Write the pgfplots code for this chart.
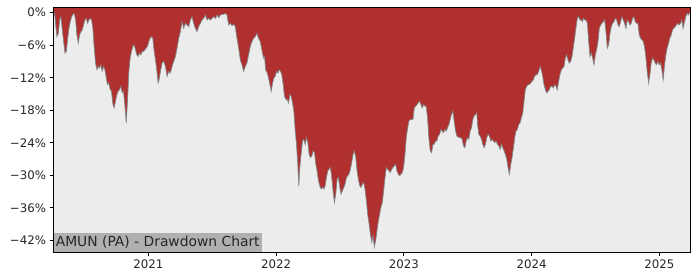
\documentclass[border=0pt]{standalone}
\usepackage{fontspec}
\setmainfont{DejaVu Sans}
\usepackage{pgfplots}
\pgfplotsset{compat=1.18}
\usepackage{pgfplotstable}
\definecolor{ddred}{RGB}{176,48,48}
\definecolor{bgc}{RGB}{236,236,236}
\definecolor{boxc}{RGB}{176,176,176}
\definecolor{edgec}{RGB}{128,136,136}

\pgfplotstableread{
x y
2020.255 -1.00
2020.267 -0.12
2020.275 -2.26
2020.285 -4.40
2020.296 -3.79
2020.306 -1.34
2020.316 -0.73
2020.327 -3.17
2020.337 -5.31
2020.348 -7.45
2020.358 -7.15
2020.369 -4.70
2020.379 -2.87
2020.389 -1.65
2020.400 -0.73
2020.410 -0.30
2020.421 -0.12
2020.431 -1.34
2020.441 -4.09
2020.452 -5.62
2020.462 -4.09
2020.473 -3.48
2020.483 -3.17
2020.493 -2.26
2020.504 -1.34
2020.514 -1.03
2020.525 -1.95
2020.535 -1.34
2020.546 -1.03
2020.556 -1.34
2020.566 -2.87
2020.577 -6.54
2020.587 -9.29
2020.598 -10.51
2020.608 -9.90
2020.618 -10.21
2020.629 -9.60
2020.639 -10.82
2020.650 -9.90
2020.660 -10.51
2020.671 -12.04
2020.681 -13.27
2020.691 -12.96
2020.702 -14.18
2020.712 -14.49
2020.723 -16.94
2020.733 -17.55
2020.743 -16.32
2020.754 -15.10
2020.764 -14.49
2020.775 -14.18
2020.785 -13.57
2020.796 -14.79
2020.806 -14.49
2020.816 -16.94
2020.827 -20.30
2020.837 -16.32
2020.848 -10.82
2020.858 -8.37
2020.868 -7.15
2020.879 -6.23
2020.889 -5.93
2020.900 -6.84
2020.910 -7.76
2020.921 -8.07
2020.931 -7.45
2020.941 -7.76
2020.952 -7.15
2020.962 -7.15
2020.973 -6.84
2020.983 -6.54
2020.993 -6.23
2021.004 -5.31
2021.014 -4.70
2021.025 -4.40
2021.035 -4.70
2021.046 -7.15
2021.056 -8.68
2021.066 -10.51
2021.077 -12.96
2021.082 -12.65
2021.095 -10.82
2021.108 -9.29
2021.121 -8.98
2021.134 -9.90
2021.147 -11.74
2021.160 -10.82
2021.173 -11.12
2021.186 -9.90
2021.199 -8.98
2021.212 -8.07
2021.225 -6.54
2021.238 -4.70
2021.251 -3.48
2021.264 -1.65
2021.277 -2.87
2021.290 -1.95
2021.303 -2.26
2021.316 -2.56
2021.329 -1.34
2021.342 -0.73
2021.355 -1.95
2021.368 -2.87
2021.381 -3.48
2021.394 -2.56
2021.408 -1.95
2021.421 -1.34
2021.434 -1.03
2021.447 -0.42
2021.460 -1.34
2021.473 -1.03
2021.486 -1.34
2021.499 -1.03
2021.512 -0.73
2021.525 -1.03
2021.538 -0.42
2021.551 -0.91
2021.564 -0.42
2021.577 -0.30
2021.590 -0.30
2021.603 -0.12
2021.616 -0.42
2021.629 -2.26
2021.642 -1.95
2021.655 -2.38
2021.668 -2.13
2021.681 -2.56
2021.694 -4.70
2021.707 -6.54
2021.720 -8.68
2021.733 -9.60
2021.746 -10.82
2021.759 -9.90
2021.772 -9.29
2021.785 -7.76
2021.798 -6.23
2021.811 -5.31
2021.824 -4.70
2021.837 -4.40
2021.850 -3.79
2021.863 -4.70
2021.876 -5.31
2021.889 -6.84
2021.902 -8.37
2021.910 -8.07
2021.918 -10.51
2021.931 -11.12
2021.941 -12.04
2021.952 -13.27
2021.962 -14.49
2021.973 -12.96
2021.983 -12.04
2021.993 -11.74
2022.004 -10.82
2022.014 -11.12
2022.025 -10.51
2022.035 -10.82
2022.045 -11.43
2022.056 -13.27
2022.066 -15.41
2022.077 -16.02
2022.087 -16.02
2022.098 -16.63
2022.108 -15.10
2022.118 -15.41
2022.129 -16.63
2022.139 -18.16
2022.150 -21.83
2022.160 -24.28
2022.170 -27.95
2022.178 -31.92
2022.186 -28.56
2022.196 -26.11
2022.207 -23.67
2022.217 -23.36
2022.228 -24.28
2022.238 -23.05
2022.249 -23.97
2022.259 -26.11
2022.269 -26.72
2022.280 -26.42
2022.290 -25.50
2022.301 -25.81
2022.311 -27.95
2022.321 -29.17
2022.332 -31.00
2022.342 -31.92
2022.353 -32.53
2022.363 -32.23
2022.374 -32.53
2022.384 -31.92
2022.394 -30.39
2022.405 -29.17
2022.415 -28.86
2022.426 -28.56
2022.436 -30.39
2022.446 -32.84
2022.457 -34.98
2022.467 -33.45
2022.478 -30.70
2022.488 -30.39
2022.499 -32.23
2022.509 -33.45
2022.519 -32.84
2022.530 -32.23
2022.540 -31.62
2022.551 -30.39
2022.561 -30.09
2022.571 -29.78
2022.582 -28.86
2022.592 -27.64
2022.603 -26.11
2022.613 -25.50
2022.624 -26.72
2022.634 -29.17
2022.644 -30.70
2022.655 -31.92
2022.665 -32.23
2022.676 -31.62
2022.686 -31.31
2022.696 -32.53
2022.707 -34.67
2022.717 -37.12
2022.728 -38.95
2022.738 -40.78
2022.749 -42.32
2022.759 -41.09
2022.769 -43.24
2022.780 -42.01
2022.790 -40.17
2022.801 -38.34
2022.811 -37.12
2022.821 -35.89
2022.832 -34.98
2022.842 -32.84
2022.853 -30.39
2022.863 -28.56
2022.873 -28.86
2022.884 -29.17
2022.894 -29.48
2022.905 -28.86
2022.915 -28.56
2022.926 -28.25
2022.936 -27.95
2022.946 -29.17
2022.957 -29.78
2022.967 -30.09
2022.978 -29.78
2022.988 -29.48
2022.998 -28.56
2023.009 -26.11
2023.019 -23.05
2023.030 -21.22
2023.040 -19.99
2023.050 -19.69
2023.061 -19.69
2023.071 -19.69
2023.082 -17.55
2023.092 -17.24
2023.103 -16.94
2023.113 -16.63
2023.123 -16.32
2023.134 -16.94
2023.144 -17.55
2023.155 -16.94
2023.165 -17.24
2023.175 -17.24
2023.186 -19.38
2023.196 -23.05
2023.207 -25.50
2023.217 -25.81
2023.228 -24.28
2023.238 -24.28
2023.248 -23.67
2023.259 -23.67
2023.269 -22.75
2023.280 -22.44
2023.290 -21.52
2023.300 -21.83
2023.311 -22.14
2023.321 -21.52
2023.332 -21.83
2023.342 -21.22
2023.353 -20.61
2023.363 -19.69
2023.373 -18.77
2023.384 -18.16
2023.394 -19.99
2023.405 -21.83
2023.415 -22.75
2023.425 -22.93
2023.436 -23.05
2023.446 -23.05
2023.457 -23.36
2023.467 -24.58
2023.478 -24.89
2023.488 -23.67
2023.498 -23.05
2023.509 -23.36
2023.519 -21.83
2023.530 -21.22
2023.540 -19.69
2023.550 -19.08
2023.561 -18.77
2023.571 -18.46
2023.577 -20.61
2023.587 -22.44
2023.597 -22.75
2023.608 -23.36
2023.618 -24.28
2023.629 -24.89
2023.639 -24.28
2023.649 -23.05
2023.660 -22.44
2023.670 -22.75
2023.681 -23.67
2023.691 -23.36
2023.701 -23.67
2023.712 -23.97
2023.722 -23.67
2023.733 -24.28
2023.743 -24.58
2023.754 -25.19
2023.764 -24.28
2023.774 -24.89
2023.785 -25.50
2023.795 -26.11
2023.806 -27.03
2023.816 -28.56
2023.826 -29.78
2023.837 -27.95
2023.847 -26.72
2023.858 -24.89
2023.868 -23.05
2023.878 -21.83
2023.889 -21.52
2023.899 -20.61
2023.910 -20.30
2023.920 -19.38
2023.931 -18.46
2023.941 -16.32
2023.951 -14.18
2023.962 -13.57
2023.972 -13.27
2023.983 -13.27
2023.993 -12.96
2024.004 -12.65
2024.014 -12.35
2024.024 -11.74
2024.035 -11.43
2024.045 -11.43
2024.056 -10.82
2024.066 -9.90
2024.076 -10.51
2024.087 -11.74
2024.097 -13.27
2024.108 -14.18
2024.118 -14.79
2024.129 -14.49
2024.139 -14.18
2024.149 -13.57
2024.160 -13.57
2024.170 -13.88
2024.181 -13.27
2024.191 -13.57
2024.201 -14.18
2024.212 -12.65
2024.222 -11.43
2024.233 -10.51
2024.243 -10.21
2024.254 -9.90
2024.264 -8.37
2024.274 -7.76
2024.285 -8.68
2024.295 -9.29
2024.306 -8.98
2024.316 -8.07
2024.326 -6.54
2024.337 -4.70
2024.347 -2.87
2024.358 -1.03
2024.368 -0.73
2024.379 -1.34
2024.389 -1.34
2024.399 -1.65
2024.405 -1.03
2024.416 -1.34
2024.426 -1.34
2024.437 -1.95
2024.447 -5.31
2024.457 -8.07
2024.468 -7.45
2024.478 -8.37
2024.489 -9.60
2024.499 -7.76
2024.509 -6.84
2024.520 -5.31
2024.530 -2.87
2024.541 -2.26
2024.551 -1.95
2024.561 -1.65
2024.572 -1.34
2024.582 -3.48
2024.593 -6.54
2024.603 -5.93
2024.614 -3.79
2024.624 -2.56
2024.634 -1.95
2024.645 -1.65
2024.655 -1.03
2024.666 -1.34
2024.676 -2.26
2024.686 -2.56
2024.697 -1.65
2024.707 -0.73
2024.718 -1.34
2024.728 -1.95
2024.739 -2.87
2024.749 -1.34
2024.759 -1.65
2024.770 -2.26
2024.780 -1.95
2024.791 -1.03
2024.801 -0.73
2024.811 -1.65
2024.822 -1.95
2024.832 -1.95
2024.843 -4.09
2024.853 -4.70
2024.864 -5.01
2024.874 -5.31
2024.884 -6.23
2024.895 -8.37
2024.905 -10.82
2024.916 -12.96
2024.926 -11.43
2024.936 -9.29
2024.947 -8.37
2024.957 -8.68
2024.968 -9.29
2024.978 -9.60
2024.989 -8.98
2024.999 -9.60
2025.009 -9.29
2025.020 -10.51
2025.030 -12.35
2025.041 -9.60
2025.051 -7.76
2025.061 -6.54
2025.072 -5.62
2025.082 -4.70
2025.093 -4.09
2025.103 -3.17
2025.113 -2.87
2025.124 -2.56
2025.134 -2.26
2025.145 -1.95
2025.155 -2.26
2025.166 -1.95
2025.176 -1.34
2025.186 -2.87
2025.197 -1.65
2025.207 -0.73
2025.218 -0.12
2025.228 -0.42
2025.238 0.00
}\ddtable

\begin{document}
\begin{tikzpicture}
\useasboundingbox (-53bp,-27.7bp) rectangle (647bp,252.3bp);
\begin{axis}[
  at={(0,0)}, anchor=south west,
  scale only axis, width=637bp, height=245bp,
  xmin=2020.254, xmax=2025.24, ymin=-44.2, ymax=1,
  axis background/.style={fill=bgc},
  axis on top,
  axis line style={black, line width=0.8bp},
  tick pos=left, tick align=outside,
  major tick length=3.5bp,
  every tick/.style={black, line width=0.8bp},
  xtick={2021,2022,2023,2024,2025},
  xticklabels={2021,2022,2023,2024,2025},
  ytick={0,-6,-12,-18,-24,-30,-36,-42},
  yticklabels={0\%,−6\%,−12\%,−18\%,−24\%,−30\%,−36\%,−42\%},
  tick label style={font=\fontsize{11.8}{14}\selectfont, text=black!85},
]
\addplot[fill=ddred, draw=none] table {\ddtable} -- (axis cs:2025.24,1) -- (axis cs:2020.254,1) -- cycle;
\addplot[edgec, line width=0.7bp] table {\ddtable};
\node[anchor=south west, fill=boxc, inner xsep=2.6bp, inner ysep=0pt, minimum height=19.3bp,
  font=\fontsize{13.9}{16}\selectfont, text=black!85] at (rel axis cs:0,0) {AMUN (PA) - Drawdown Chart};
\end{axis}
\end{tikzpicture}
\end{document}
